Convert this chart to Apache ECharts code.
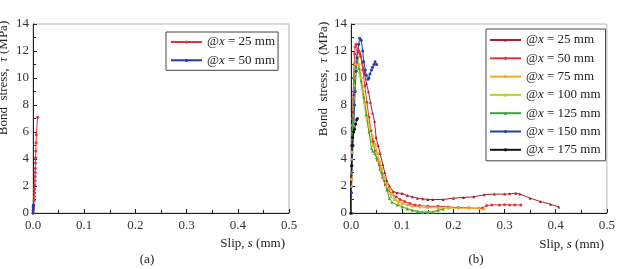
<!DOCTYPE html>
<html>
<head>
<meta charset="utf-8">
<script src="https://cdn.jsdelivr.net/npm/echarts@6/dist/echarts.min.js"></script>
<style>
  html, body { margin: 0; padding: 0; background: #fff; }
  #main { width: 618px; height: 269px; }
</style>
</head>
<body>
<div id="main"></div>
<script>
'use strict';

// x tick labels (slip, mm) and y ticks (bond stress, MPa)
var slipTicks = [0.0, 0.1, 0.2, 0.3, 0.4, 0.5];
var stressTicks = [0, 2, 4, 6, 8, 10, 12, 14];

// (a) 两条曲线
var a25 = [[0,0],[0.001,0.3],[0.0015,0.6],[0.002,0.9],[0.0025,1.2],[0.003,1.5],[0.003,1.8],[0.0035,2.1],
  [0.0038,2.4],[0.004,2.7],[0.0042,3.0],[0.0045,3.3],[0.0048,3.7],[0.005,4.1],[0.0055,4.6],[0.006,5.2],
  [0.0065,5.8],[0.009,7.1]];
var a50 = [[0,0],[0.0003,0.2],[0.0005,0.4],[0.0007,0.55],[0.0008,0.6]];

// (b) 七条曲线
var b25 = [[0,0],[0.001,2],[0.002,4],[0.003,6],[0.004,7.5],[0.005,8.8],[0.007,10],[0.009,11],[0.011,11.6],
  [0.013,12],[0.015,12.1],[0.018,11.8],[0.022,11.2],[0.026,10.4],[0.03,9.6],[0.034,9],[0.038,8.2],[0.042,7.4],
  [0.046,6.8],[0.049,5.6],[0.053,5.0],[0.057,4.4],[0.062,3.6],[0.066,3.0],[0.07,2.4],[0.075,2.0],[0.082,1.6],
  [0.09,1.5],[0.1,1.45],[0.11,1.3],[0.12,1.2],[0.13,1.1],[0.14,1.05],[0.15,1.0],[0.16,1.0],[0.18,1.0],
  [0.2,1.1],[0.22,1.15],[0.24,1.2],[0.26,1.35],[0.28,1.4],[0.3,1.4],[0.31,1.42],[0.322,1.47],[0.33,1.4],
  [0.35,1.1],[0.37,0.85],[0.39,0.65],[0.406,0.45]];
var b50 = [[0,0],[0.001,2.5],[0.002,5],[0.003,7],[0.004,8.5],[0.005,10],[0.006,11],[0.007,11.8],[0.008,12.3],
  [0.01,12.5],[0.013,12.1],[0.016,11.9],[0.019,11.6],[0.023,10.6],[0.027,9.4],[0.031,8.2],[0.035,7.1],
  [0.039,6.1],[0.043,5.3],[0.047,4.6],[0.052,3.9],[0.057,3.2],[0.062,2.6],[0.067,2.1],[0.073,1.7],[0.08,1.4],
  [0.088,1.2],[0.096,1.0],[0.105,0.85],[0.115,0.7],[0.125,0.6],[0.134,0.55],[0.15,0.5],[0.17,0.5],[0.19,0.45],
  [0.21,0.4],[0.23,0.38],[0.25,0.35],[0.257,0.37],[0.265,0.55],[0.275,0.6],[0.29,0.6],[0.3,0.62],[0.31,0.6],
  [0.32,0.6],[0.332,0.6]];
var b75 = [[0,0],[0.001,2.5],[0.002,4.5],[0.003,6.5],[0.005,8.5],[0.007,10],[0.009,11],[0.011,11.5],
  [0.013,11.6],[0.016,11.0],[0.02,10.0],[0.024,9.0],[0.028,8.0],[0.032,7.0],[0.037,6.3],[0.042,5.7],
  [0.047,5.1],[0.052,4.4],[0.056,3.8],[0.06,3.3],[0.065,2.7],[0.07,2.2],[0.075,1.8],[0.08,1.4],[0.086,1.0],
  [0.093,0.85],[0.1,0.7],[0.11,0.6],[0.12,0.5],[0.135,0.45],[0.15,0.4],[0.17,0.38],[0.19,0.36],[0.21,0.35],
  [0.23,0.35],[0.25,0.33],[0.26,0.3]];
var b100 = [[0,0],[0.001,2],[0.002,4],[0.003,6],[0.005,8],[0.007,9.5],[0.009,10.3],[0.011,10.7],[0.014,10.8],
  [0.017,10.2],[0.021,9.2],[0.025,8.2],[0.029,7.2],[0.033,6.4],[0.038,5.6],[0.043,5.0],[0.048,4.5],
  [0.053,3.9],[0.058,3.2],[0.063,2.6],[0.068,2.0],[0.073,1.6],[0.078,1.2],[0.085,1.0],[0.092,0.7],[0.1,0.5],
  [0.11,0.35],[0.12,0.2],[0.13,0.15],[0.14,0.1],[0.15,0.08],[0.16,0.1],[0.17,0.2],[0.18,0.3],[0.19,0.4]];
var b125 = [[0,0],[0.001,3],[0.002,5.5],[0.003,6.5],[0.005,8.5],[0.007,10],[0.009,10.8],[0.011,11.3],
  [0.013,11.4],[0.016,10.7],[0.02,9.8],[0.025,8.6],[0.03,7.3],[0.035,6.0],[0.04,4.8],[0.042,4.6],[0.046,4.4],
  [0.05,4.1],[0.055,3.6],[0.06,3.0],[0.065,2.4],[0.07,1.7],[0.075,1.1],[0.08,0.8],[0.09,0.6],[0.1,0.45],
  [0.11,0.3],[0.12,0.2],[0.13,0.1],[0.14,0.05],[0.15,0.05],[0.16,0.08],[0.17,0.2],[0.18,0.3]];
var b150 = [[0,0],[0.001,1.5],[0.002,3.5],[0.004,5],[0.005,6],[0.007,8],[0.008,9],[0.01,10.5],[0.012,11.5],
  [0.015,12.5],[0.017,12.95],[0.02,12.8],[0.023,12],[0.025,11.2],[0.028,10.6],[0.03,10.2],[0.033,9.9],
  [0.035,10.0],[0.037,10.3],[0.04,10.6],[0.042,10.8],[0.045,11.0],[0.047,11.2],[0.05,11.0]];
var b175 = [[0,0],[-0.001,0.7],[-0.001,2.2],[0.001,3.5],[0.002,5.0],[0.003,5.6],[0.005,6.0],[0.007,6.2],
  [0.009,6.6],[0.011,6.9],[0.0125,7.0]];

var serif = '"Liberation Serif", "DejaVu Serif", serif';

function label(n) {
  return '@{i|x} = ' + n + ' mm';
}

var legendNames = {
  a25: label(25), a50: label(50),
  b25: label(25), b50: label(50), b75: label(75), b100: label(100),
  b125: label(125), b150: label(150), b175: label(175)
};

function mkX(gi) {
  return {
    type: 'value', gridIndex: gi, min: 0, max: 0.5, interval: 0.1,
    axisLine: { show: true, onZero: false, lineStyle: { color: '#222', width: 1 } },
    axisTick: { show: true, inside: true, length: 4, lineStyle: { color: '#222' } },
    minorTick: { show: true, splitNumber: 2, length: 3, lineStyle: { color: '#222' } },
    splitLine: { show: false },
    axisLabel: {
      margin: 6, color: '#333', fontFamily: serif, fontSize: 13,
      formatter: function (v) { return slipTicks.indexOf(+v.toFixed(1)) >= 0 ? v.toFixed(1) : ''; }
    }
  };
}
function mkY(gi) {
  return {
    type: 'value', gridIndex: gi, min: 0, max: 14, interval: 2,
    axisLine: { show: true, onZero: false, lineStyle: { color: '#222', width: 1 } },
    axisTick: { show: true, inside: true, length: 4, lineStyle: { color: '#222' } },
    minorTick: { show: true, splitNumber: 2, length: 3, lineStyle: { color: '#222' } },
    splitLine: { show: false },
    axisLabel: {
      margin: 4, color: '#333', fontFamily: serif, fontSize: 13,
      formatter: function (v) { return stressTicks.indexOf(v) >= 0 ? String(v) : ''; }
    }
  };
}

function mkSeries(name, data, color, gi, symbol) {
  return {
    name: name, type: 'line', xAxisIndex: gi, yAxisIndex: gi, data: data,
    symbol: symbol || 'circle', symbolSize: 3, showSymbol: true,
    lineStyle: { color: color, width: 1 }, itemStyle: { color: color },
    animation: false
  };
}

function mkLegend(names, left, top, pad) {
  return {
    orient: 'vertical', left: left, top: top, data: names,
    backgroundColor: '#fff', borderColor: '#444', borderWidth: 1, borderRadius: 0,
    padding: pad, itemWidth: 31, itemHeight: 4, itemGap: 4.3,
    selectedMode: false,
    formatter: function (n) { return legendNames[n]; },
    textStyle: {
      fontFamily: serif, fontSize: 13, color: '#222', lineHeight: 14,
      rich: { i: { fontFamily: serif, fontSize: 13, fontStyle: 'italic', color: '#222' } }
    }
  };
}

var textBase = { fontFamily: serif, fontSize: 13, fill: '#222' };
var richI = { i: { fontFamily: serif, fontSize: 13, fontStyle: 'italic', fill: '#222' } };

function mkText(x, y, text, align, rot) {
  return {
    type: 'text', x: x, y: y, rotation: rot || 0,
    style: Object.assign({}, textBase, { text: text, align: align, verticalAlign: 'middle', rich: richI })
  };
}

var chart = echarts.init(document.getElementById('main'), null, { renderer: 'canvas' });

chart.setOption({
  backgroundColor: '#fff',
  animation: false,
  grid: [
    { left: 33, top: 24, right: 329, bottom: 56, show: true, borderColor: '#b5b5b5', borderWidth: 1, backgroundColor: 'transparent' },
    { left: 351, top: 24, right: 10, bottom: 56, show: true, borderColor: '#b5b5b5', borderWidth: 1, backgroundColor: 'transparent' }
  ],
  xAxis: [mkX(0), mkX(1)],
  yAxis: [mkY(0), mkY(1)],
  legend: [
    mkLegend(['a25', 'a50'], 166, 32, [3, 3, 3, 4]),
    mkLegend(['b25', 'b50', 'b75', 'b100', 'b125', 'b150', 'b175'], 486, 29, [4, 5, 4, 3])
  ],
  series: [
    mkSeries('a25', a25, '#e3323c', 0),
    mkSeries('a50', a50, '#23389c', 0),
    mkSeries('b25', b25, '#a8202f', 1, 'triangle'),
    mkSeries('b50', b50, '#e2353d', 1),
    mkSeries('b75', b75, '#f4a92a', 1),
    mkSeries('b100', b100, '#b9cf2c', 1, 'triangle'),
    mkSeries('b125', b125, '#35a635', 1, 'triangle'),
    mkSeries('b150', b150, '#2140a8', 1),
    mkSeries('b175', b175, '#111111', 1)
  ],
  graphic: [
    mkText(285, 244, 'Slip, {i|s} (mm)', 'right'),
    mkText(604, 245, 'Slip, {i|s} (mm)', 'right'),
    mkText(4, 78, 'Bond  stress,  {i|τ} (MPa)', 'center', Math.PI / 2),
    mkText(324, 79, 'Bond  stress,  {i|τ} (MPa)', 'center', Math.PI / 2),
    mkText(147, 260, '(a)', 'center'),
    mkText(476, 260, '(b)', 'center')
  ]
});
</script>
</body>
</html>
